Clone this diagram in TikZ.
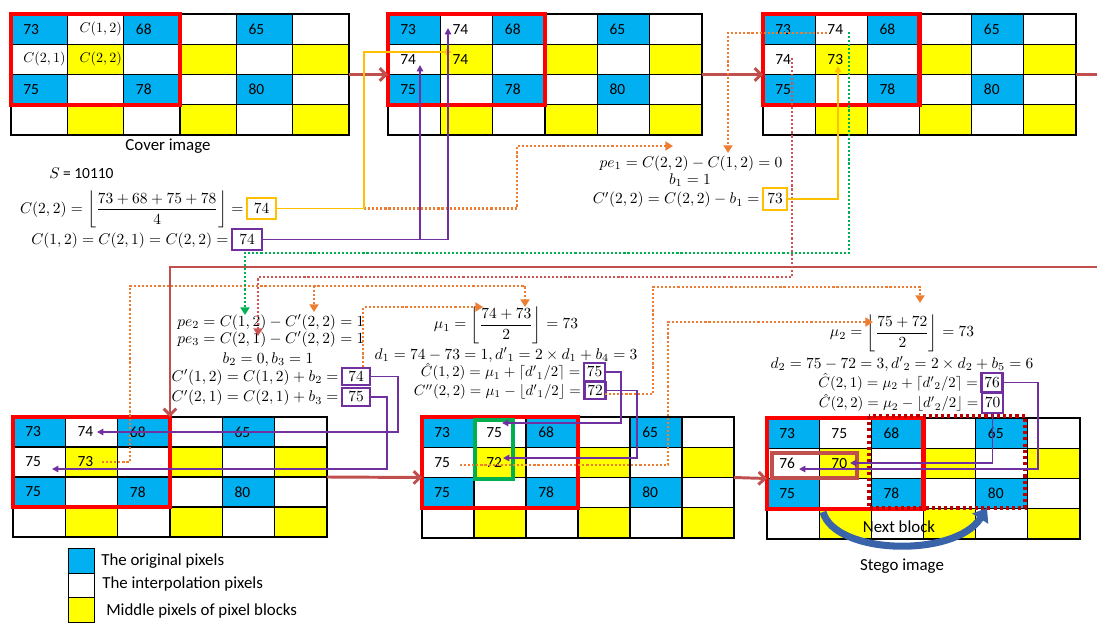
\RequirePackage{fix-cm}
\documentclass[tikz,border=0pt]{standalone}
\usepackage{amsmath}
\usepackage{fontspec}
\newfontfamily\carl{Carlito}
\usetikzlibrary{arrows.meta,calc}
\definecolor{cblue}{RGB}{0,176,240}
\definecolor{cyel}{RGB}{255,255,0}
\definecolor{cred}{RGB}{255,0,0}
\definecolor{cbrown}{RGB}{192,80,77}
\definecolor{corange}{RGB}{237,125,49}
\definecolor{cpurple}{RGB}{112,48,160}
\definecolor{cgold}{RGB}{255,192,0}
\definecolor{cgreen}{RGB}{0,176,80}
\definecolor{cdred}{RGB}{192,0,0}
\definecolor{cpink}{RGB}{205,85,85}
\definecolor{carrowblue}{RGB}{58,100,170}
\newcommand\pixgrid[5]{%
  \pgfmathsetlengthmacro\cwl{#4*0.025cm}%
  \pgfmathsetlengthmacro\rhl{#5*0.025cm}%
  \foreach \r in {1,...,4}{%
    \foreach \c in {1,...,6}{%
      \pgfmathtruncatemacro\k{mod(\r,2)*2+mod(\c,2)}%
      \ifcase\k \def\cf{cyel}\or\def\cf{white}\or\def\cf{white}\or\def\cf{cblue}\fi
      \node[cell, fill=\cf, minimum width=\cwl, minimum height=\rhl] (#1-\r-\c) at ({#2+(\c-1)*#4},{#3+(\r-1)*#5}) {};
    }%
  }%
}
\newcommand\celltxt[4]{\node[ctext] (#1t#2#3) at ($(#1-#2-#3.west)+(12,0)$) {#4};}
\begin{document}
\begin{tikzpicture}[x=0.025cm,y=-0.025cm,
  cell/.style={draw=black,line width=0.8pt,inner sep=0pt,outer sep=0pt,anchor=north west},
  ctext/.style={font=\carl\fontsize{11}{13}\selectfont,anchor=west,inner sep=0pt},
  lbl/.style={font=\carl\fontsize{12}{14}\selectfont,inner sep=0pt},
  eq/.style={font=\fontsize{11}{13}\selectfont,inner sep=0pt},
  eqs/.style={font=\fontsize{10.5}{12}\selectfont,inner sep=0pt},
  boxbase/.style={font=\fontsize{11}{13}\selectfont,inner sep=0pt,line width=1.8pt},
  pbox/.style={boxbase,draw=cpurple},
  gbox/.style={boxbase,draw=cgold},
  redbox/.style={draw=cred,line width=3pt},
  mainarr/.style={draw=cbrown,line width=2.1pt},
  mainhead/.style={-{Straight Barb[length=4.5pt,width=9pt]}},
  pline/.style={draw=cpurple,line width=1.3pt,-{Triangle[length=4.5pt,width=4.5pt]}},
  gline/.style={draw=cgold,line width=1.3pt,-{Triangle[length=4.5pt,width=4.5pt]}},
  dotln/.style={line width=1.6pt,dash pattern=on 1.5pt off 1.4pt,-{Triangle[length=5.5pt,width=6.5pt]}},
  odot/.style={dotln,draw=corange},
  grdot/.style={dotln,draw=cgreen},
  rddot/.style={dotln,draw=cpink},
  legbox/.style={draw=black,line width=0.8pt,anchor=north west,minimum width=0.65cm,minimum height=0.6125cm,inner sep=0pt}
]
\useasboundingbox (0,0) rectangle (1097,623);
% grids
\pixgrid{g1}{11}{14}{56.33}{30.25}
\pixgrid{g2}{388}{14}{52.33}{30.25}
\pixgrid{g3}{763}{14}{52.17}{30.25}
\pixgrid{g4}{13}{417}{52.33}{30}
\pixgrid{g5}{422}{417}{52}{30.25}
\pixgrid{g6}{767}{418}{52.17}{30.25}
% highlight boxes
\draw[redbox] (g1-1-1.north west) rectangle (g1-3-3.south east);
\draw[redbox] (g2-1-1.north west) rectangle (g2-3-3.south east);
\draw[redbox] (g3-1-1.north west) rectangle (g3-3-3.south east);
\draw[redbox] (g4-1-1.north west) rectangle (g4-3-3.south east);
\draw[redbox] (g5-1-1.north west) rectangle (g5-3-3.south east);
\draw[redbox] (g6-1-1.north west) rectangle (g6-3-3.south east);
\draw[cgreen,line width=2.2pt] (475,420) rectangle (513,479);
\draw[cbrown,line width=2.5pt] (772,453) rectangle (857,478);
\draw[cdred,line width=2.2pt,dash pattern=on 2.2pt off 2.2pt] (869,416) rectangle (1025,508);
% cell texts
\celltxt{g1}{1}{1}{73}\celltxt{g1}{1}{2}{{\fontsize{10}{12}\selectfont$C(1,2)$}}\celltxt{g1}{1}{3}{68}\celltxt{g1}{1}{5}{65}
\celltxt{g1}{2}{1}{{\fontsize{10}{12}\selectfont$C(2,1)$}}\celltxt{g1}{2}{2}{{\fontsize{10}{12}\selectfont$C(2,2)$}}
\celltxt{g1}{3}{1}{75}\celltxt{g1}{3}{3}{78}\celltxt{g1}{3}{5}{80}
\celltxt{g2}{1}{1}{73}\celltxt{g2}{1}{2}{74}\celltxt{g2}{1}{3}{68}\celltxt{g2}{1}{5}{65}
\celltxt{g2}{2}{1}{74}\celltxt{g2}{2}{2}{74}
\celltxt{g2}{3}{1}{75}\celltxt{g2}{3}{3}{78}\celltxt{g2}{3}{5}{80}
\celltxt{g3}{1}{1}{73}\celltxt{g3}{1}{2}{74}\celltxt{g3}{1}{3}{68}\celltxt{g3}{1}{5}{65}
\celltxt{g3}{2}{1}{74}\celltxt{g3}{2}{2}{73}
\celltxt{g3}{3}{1}{75}\celltxt{g3}{3}{3}{78}\celltxt{g3}{3}{5}{80}
\celltxt{g4}{1}{1}{73}\celltxt{g4}{1}{2}{74}\celltxt{g4}{1}{3}{68}\celltxt{g4}{1}{5}{65}
\celltxt{g4}{2}{1}{75}\celltxt{g4}{2}{2}{73}
\celltxt{g4}{3}{1}{75}\celltxt{g4}{3}{3}{78}\celltxt{g4}{3}{5}{80}
\celltxt{g5}{1}{1}{73}\celltxt{g5}{1}{2}{75}\celltxt{g5}{1}{3}{68}\celltxt{g5}{1}{5}{65}
\celltxt{g5}{2}{1}{75}\celltxt{g5}{2}{2}{72}
\celltxt{g5}{3}{1}{75}\celltxt{g5}{3}{3}{78}\celltxt{g5}{3}{5}{80}
\celltxt{g6}{1}{1}{73}\celltxt{g6}{1}{2}{75}\celltxt{g6}{1}{3}{68}\celltxt{g6}{1}{5}{65}
\celltxt{g6}{2}{1}{76}\celltxt{g6}{2}{2}{70}
\celltxt{g6}{3}{1}{75}\celltxt{g6}{3}{3}{78}\celltxt{g6}{3}{5}{80}
% labels
\node[lbl] (cover) at (168,146) {Cover image};
\node[lbl] (stego) at (902,566) {Stego image};
\node[ctext] (sval) at (49,173) {$S$ = 10110};
% legend
\node[legbox,fill=cblue] (lg1) at (68,548) {};
\node[legbox,fill=white] (lg2) at (68,572.5) {};
\node[legbox,fill=cyel] (lg3) at (68,597) {};
\node[lbl,anchor=west] (lt1) at (101,561) {The original pixels};
\node[lbl,anchor=west] (lt2) at (102,584) {The interpolation pixels};
\node[lbl,anchor=west] (lt3) at (106,611) {Middle pixels of pixel blocks};
% boxes
\node[gbox,minimum width=0.725cm,minimum height=0.525cm] (box74a) at (261.5,208.5) {$74$};
\node[pbox,minimum width=0.75cm,minimum height=0.525cm] (box74b) at (247,239.5) {$74$};
\node[gbox,minimum width=0.6cm,minimum height=0.55cm] (box73) at (775,199) {$73$};
\node[pbox,minimum width=0.7cm,minimum height=0.425cm] (box74c) at (356,376.5) {$74$};
\node[pbox,minimum width=0.7cm,minimum height=0.45cm] (box75c) at (356,397) {$75$};
\node[pbox,minimum width=0.525cm,minimum height=0.45cm] (box75d) at (594.5,372) {$75$};
\node[pbox,minimum width=0.525cm,minimum height=0.425cm] (box72d) at (595,390.5) {$72$};
\node[pbox,minimum width=0.525cm,minimum height=0.475cm] (box76) at (992,382.5) {$76$};
\node[pbox,minimum width=0.525cm,minimum height=0.5cm] (box70) at (992.5,403) {$70$};
% equations
\node[eq,anchor=base east] (eq1) at ($(box74a.base west)+(-2,0)$) {$C(2,2)=\left\lfloor\dfrac{73+68+75+78}{4}\right\rfloor=$};
\node[eq,anchor=base east] (eq2) at ($(box74b.base west)+(-2,0)$) {$C(1,2)=C(2,1)=C(2,2)=$};
\node[eq,anchor=base] (pe1) at (691,167) {$pe_1=C(2,2)-C(1,2)=0$};
\node[eq,anchor=base] (b1) at (690,184) {$b_1=1$};
\node[eq,anchor=base east] (cp22) at ($(box73.base west)+(-2,0)$) {$C'(2,2)=C(2,2)-b_1=$};
\node[eq,anchor=base west] (pe2) at (177,326) {$pe_2=C(1,2)-C'(2,2)=1$};
\node[eq,anchor=base west] (pe3) at (177,343) {$pe_3=C(2,1)-C'(2,2)=1$};
\node[eq,anchor=base] (b23) at (268,363) {$b_2=0,b_3=1$};
\node[eq,anchor=base east] (cp12) at ($(box74c.base west)+(-2,0)$) {$C'(1,2)=C(1,2)+b_2=$};
\node[eq,anchor=base east] (cp21) at ($(box75c.base west)+(-2,0)$) {$C'(2,1)=C(2,1)+b_3=$};
\node[eq] (mu1) at (506,325) {$\mu_1=\left\lfloor\dfrac{74+73}{2}\right\rfloor=73$};
\node[eq,anchor=base] (d1) at (506,359) {$d_1=74-73=1,{d'}_1=2\times d_1+b_4=3$};
\node[eqs,anchor=base east] (ch12) at ($(box75d.base west)+(-2,0)$) {$\hat{C}(1,2)=\mu_1+\lceil {d'}_1/2\rceil=$};
\node[eqs,anchor=base east] (cpp22) at ($(box72d.base west)+(-2,0)$) {$C''(2,2)=\mu_1-\lfloor {d'}_1/2\rfloor=$};
\node[eq] (mu2) at (902,333) {$\mu_2=\left\lfloor\dfrac{75+72}{2}\right\rfloor=73$};
\node[eq,anchor=base] (d2) at (902,368) {$d_2=75-72=3,{d'}_2=2\times d_2+b_5=6$};
\node[eqs,anchor=base east] (ch21) at ($(box76.base west)+(-2,0)$) {$\hat{C}(2,1)=\mu_2+\lceil {d'}_2/2\rceil=$};
\node[eqs,anchor=base east] (ch22) at ($(box70.base west)+(-2,0)$) {$\hat{C}(2,2)=\mu_2-\lfloor {d'}_2/2\rfloor=$};
% connector coordinates
\coordinate (gA) at (364,208.5);
\coordinate (gtop) at (364,52);
\coordinate (gtip1) at (452,52);
\coordinate (gtip2) at (838,66);
\coordinate (ptip1) at (448,28);
\coordinate (pbr) at (420,239.5);
\coordinate (ptip1b) at (420,65);
\coordinate (pc1) at (398,432);\coordinate (pc1tip) at (97,432);
\coordinate (pc2) at (387,469);\coordinate (pc2tip) at (52,469);
\coordinate (pd1) at (621,423);\coordinate (pd1tip) at (502,423);
\coordinate (pd2) at (637,458);\coordinate (pd2tip) at (503,458);
\coordinate (pf1) at (1038,469);\coordinate (pf1tip) at (799,469);
\coordinate (pf2tip) at (850,463);
\coordinate (oa1) at (517,146);\coordinate (oatip) at (673,146);
\coordinate (ob0) at (827,33);\coordinate (obtip) at (728,153);
\coordinate (oc0) at (102,462);\coordinate (oc1) at (130,286);\coordinate (octip) at (525,307);
\coordinate (ocb) at (314,286);\coordinate (ocbtip) at (314,312);
\coordinate (od0) at ($(box74c.north east)+(-8,0)$);\coordinate (odtip) at (483,307);
\coordinate (oe0) at (605,394);\coordinate (oe1) at (653,287);\coordinate (oetip) at (920,303);
\coordinate (of0) at (460,465);\coordinate (of1) at (668,322);\coordinate (oftip) at (873,322);
\coordinate (gr0) at (849,32);\coordinate (gr1) at (245,253);\coordinate (grtip) at (245,315);
\coordinate (rd0) at (792,58);\coordinate (rd1) at (258,277);\coordinate (rdtip) at (258,336);
\coordinate (bredge) at (1097,74.5);\coordinate (bredge2) at (1097,267);
\coordinate (nbA) at (823,512);\coordinate (nbB) at (987,508);
% main flow arrows
\draw[mainarr,mainhead] (g1-2-6.south east) -- (g2-2-1.south west);
\draw[mainarr,mainhead] (g2-2-6.south east) -- (g3-2-1.south west);
\draw[mainarr] (g3-2-6.south east) -- (bredge);
\draw[mainarr,mainhead] (bredge2) -| (g4-1-3.north east);
\draw[mainarr,mainhead] (g4-2-6.south east) -- (g5-2-1.south west);
\draw[mainarr,mainhead] (g5-2-6.south east) -- (g6-2-1.south west);
% dotted connectors
\draw[odot] (gA) -| (oa1) -- (oatip);
\draw[odot] (ob0) -| (obtip);
\draw[odot] (oc0) -| (oc1) -| (octip);
\draw[odot] (ocb) -- (ocbtip);
\draw[odot] (od0) |- (odtip);
\draw[odot] (oe0) -| (oe1) -| (oetip);
\draw[odot] (of0) -| (of1) -- (oftip);
\draw[grdot] (gr0) |- (gr1) -- (grtip);
\draw[rddot] (rd0) |- (rd1) -- (rdtip);
% solid connectors
\draw[gline] (box74a.east) -| (gtop) -- (gtip1);
\draw[gline] (box73.east) -| (gtip2);
\draw[pline] (box74b.east) -| (ptip1);
\draw[pline] (pbr) -- (ptip1b);
\draw[pline] (box74c.east) -| (pc1) -- (pc1tip);
\draw[pline] (box75c.east) -| (pc2) -- (pc2tip);
\draw[pline] (box75d.east) -| (pd1) -- (pd1tip);
\draw[pline] (box72d.east) -| (pd2) -- (pd2tip);
\draw[pline] (box76.east) -| (pf1) -- (pf1tip);
\draw[pline] (box70.south) |- (pf2tip);
% next block arrow
\draw[carrowblue,line width=5pt,-{Triangle[length=9pt,width=13pt]}] (nbA) .. controls (835,555) and (955,558) .. (nbB);
\node[lbl] (nextb) at (899,527) {Next block};
\end{tikzpicture}
\end{document}
